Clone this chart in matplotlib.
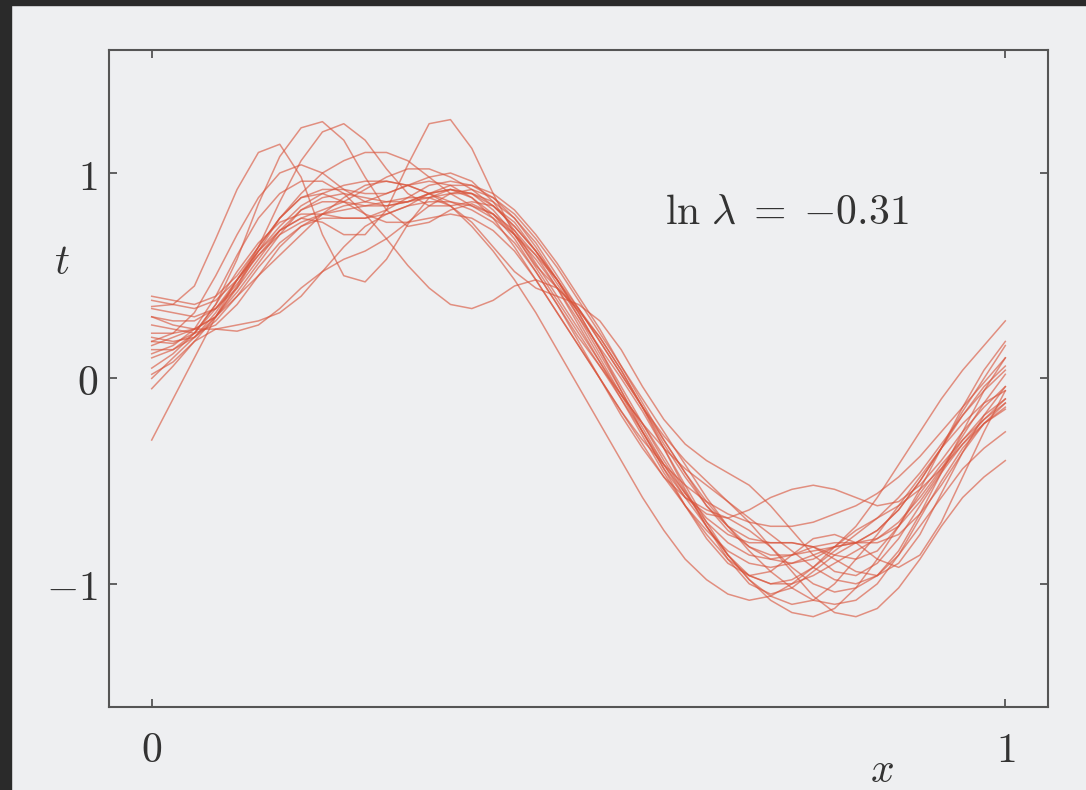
import numpy as np
import matplotlib
matplotlib.use("Agg")
import matplotlib.pyplot as plt
from matplotlib.patches import Rectangle

plt.rcParams['mathtext.fontset'] = 'cm'

# x grid the curves were read on (step 0.025)
x_grid = np.linspace(0, 1, 41)

# fitted curves, values of t at each x_grid point
fit_01 = [0.35, 0.36, 0.45, 0.68, 0.92, 1.10, 1.14, 0.98, 0.70, 0.50, 0.47, 0.58, 0.75, 0.88, 0.92, 0.88, 0.78, 0.64, 0.48, 0.32,
          0.16, 0.00, -0.16, -0.32, -0.48, -0.62, -0.74, -0.84, -0.90, -0.92, -0.90, -0.86, -0.82, -0.80, -0.78, -0.72, -0.60, -0.45, -0.30, -0.18, -0.10]
fit_02 = [0.18, 0.17, 0.22, 0.36, 0.58, 0.85, 1.08, 1.22, 1.25, 1.16, 0.98, 0.82, 0.74, 0.76, 0.82, 0.85, 0.80, 0.68, 0.52, 0.36,
          0.20, 0.06, -0.08, -0.22, -0.38, -0.55, -0.72, -0.88, -1.00, -1.05, -1.02, -0.94, -0.86, -0.80, -0.74, -0.64, -0.50, -0.34, -0.18, -0.04, 0.06]
fit_03 = [0.02, 0.08, 0.18, 0.30, 0.45, 0.64, 0.86, 1.06, 1.20, 1.24, 1.16, 1.02, 0.90, 0.84, 0.84, 0.86, 0.84, 0.76, 0.62, 0.46,
          0.30, 0.15, 0.00, -0.16, -0.34, -0.52, -0.70, -0.86, -0.98, -1.06, -1.10, -1.08, -1.00, -0.88, -0.76, -0.62, -0.48, -0.34, -0.22, -0.12, -0.06]
fit_04 = [0.30, 0.28, 0.28, 0.34, 0.46, 0.60, 0.72, 0.78, 0.76, 0.70, 0.70, 0.82, 1.04, 1.24, 1.26, 1.12, 0.90, 0.70, 0.55, 0.44,
          0.33, 0.20, 0.04, -0.14, -0.32, -0.48, -0.62, -0.72, -0.78, -0.80, -0.80, -0.82, -0.86, -0.88, -0.84, -0.72, -0.54, -0.34, -0.14, 0.04, 0.18]
fit_05 = [0.38, 0.36, 0.34, 0.38, 0.48, 0.60, 0.70, 0.76, 0.80, 0.82, 0.84, 0.86, 0.88, 0.88, 0.84, 0.76, 0.64, 0.52, 0.44, 0.40,
          0.36, 0.28, 0.14, -0.04, -0.20, -0.32, -0.40, -0.46, -0.52, -0.62, -0.74, -0.86, -0.94, -0.96, -0.90, -0.78, -0.62, -0.46, -0.32, -0.22, -0.15]
fit_06 = [0.12, 0.16, 0.24, 0.40, 0.60, 0.78, 0.90, 0.96, 0.96, 0.90, 0.80, 0.68, 0.55, 0.44, 0.36, 0.34, 0.38, 0.45, 0.48, 0.44,
          0.34, 0.20, 0.04, -0.14, -0.34, -0.54, -0.72, -0.86, -0.96, -1.00, -0.98, -0.92, -0.84, -0.76, -0.68, -0.58, -0.46, -0.32, -0.18, -0.06, 0.04]
fit_07 = [-0.30, -0.10, 0.10, 0.30, 0.48, 0.62, 0.72, 0.78, 0.82, 0.86, 0.92, 0.98, 1.02, 1.02, 0.98, 0.92, 0.84, 0.74, 0.62, 0.48,
          0.32, 0.14, -0.04, -0.22, -0.40, -0.56, -0.70, -0.80, -0.86, -0.88, -0.86, -0.82, -0.80, -0.80, -0.80, -0.76, -0.66, -0.52, -0.36, -0.22, -0.12]
fit_08 = [-0.05, 0.06, 0.18, 0.24, 0.26, 0.28, 0.32, 0.40, 0.52, 0.64, 0.74, 0.80, 0.84, 0.86, 0.86, 0.84, 0.80, 0.72, 0.60, 0.44,
          0.26, 0.08, -0.10, -0.28, -0.46, -0.62, -0.76, -0.88, -0.96, -1.00, -1.00, -0.96, -0.90, -0.84, -0.78, -0.70, -0.58, -0.44, -0.28, -0.12, 0.02]
fit_09 = [0.16, 0.20, 0.24, 0.24, 0.23, 0.26, 0.34, 0.44, 0.52, 0.58, 0.62, 0.68, 0.76, 0.84, 0.90, 0.92, 0.88, 0.80, 0.68, 0.54,
          0.38, 0.22, 0.06, -0.10, -0.26, -0.42, -0.58, -0.72, -0.84, -0.94, -1.02, -1.08, -1.10, -1.08, -1.00, -0.86, -0.68, -0.50, -0.34, -0.22, -0.14]
fit_10 = [0.40, 0.38, 0.36, 0.40, 0.50, 0.64, 0.78, 0.88, 0.92, 0.92, 0.90, 0.90, 0.94, 0.98, 1.00, 0.96, 0.86, 0.72, 0.56, 0.40,
          0.24, 0.08, -0.08, -0.22, -0.34, -0.44, -0.52, -0.60, -0.68, -0.76, -0.84, -0.92, -0.98, -1.00, -0.96, -0.84, -0.66, -0.46, -0.26, -0.06, 0.10]
fit_11 = [0.20, 0.18, 0.20, 0.28, 0.40, 0.54, 0.66, 0.74, 0.78, 0.78, 0.78, 0.80, 0.84, 0.90, 0.94, 0.94, 0.90, 0.82, 0.70, 0.56,
          0.40, 0.24, 0.06, -0.12, -0.30, -0.46, -0.60, -0.72, -0.82, -0.88, -0.90, -0.88, -0.82, -0.72, -0.58, -0.42, -0.26, -0.10, 0.04, 0.16, 0.28]
fit_12 = [0.10, 0.14, 0.22, 0.34, 0.48, 0.62, 0.74, 0.84, 0.90, 0.94, 0.96, 0.96, 0.94, 0.90, 0.84, 0.74, 0.62, 0.48, 0.32, 0.14,
          -0.04, -0.22, -0.40, -0.58, -0.74, -0.88, -0.98, -1.05, -1.08, -1.06, -1.00, -0.92, -0.82, -0.74, -0.68, -0.62, -0.54, -0.44, -0.32, -0.20, -0.10]
fit_13 = [0.22, 0.22, 0.24, 0.30, 0.42, 0.56, 0.70, 0.82, 0.88, 0.90, 0.88, 0.86, 0.86, 0.88, 0.90, 0.90, 0.86, 0.78, 0.66, 0.50,
          0.34, 0.18, 0.02, -0.14, -0.28, -0.40, -0.50, -0.60, -0.70, -0.82, -0.94, -1.06, -1.14, -1.16, -1.12, -1.02, -0.88, -0.72, -0.58, -0.48, -0.40]
fit_14 = [0.05, 0.12, 0.22, 0.36, 0.52, 0.66, 0.76, 0.80, 0.80, 0.78, 0.78, 0.82, 0.88, 0.94, 0.96, 0.94, 0.88, 0.78, 0.64, 0.48,
          0.30, 0.12, -0.06, -0.24, -0.42, -0.58, -0.72, -0.86, -0.98, -1.08, -1.14, -1.16, -1.12, -1.02, -0.88, -0.72, -0.56, -0.42, -0.30, -0.20, -0.12]
fit_15 = [0.14, 0.14, 0.20, 0.32, 0.48, 0.64, 0.78, 0.90, 1.00, 1.06, 1.10, 1.10, 1.06, 0.98, 0.90, 0.84, 0.78, 0.70, 0.60, 0.48,
          0.32, 0.14, -0.06, -0.26, -0.44, -0.58, -0.66, -0.68, -0.64, -0.58, -0.54, -0.52, -0.54, -0.58, -0.62, -0.60, -0.52, -0.40, -0.26, -0.14, -0.04]
fit_16 = [0.26, 0.24, 0.22, 0.26, 0.36, 0.50, 0.64, 0.74, 0.80, 0.84, 0.86, 0.90, 0.94, 0.96, 0.94, 0.88, 0.80, 0.70, 0.58, 0.44,
          0.28, 0.10, -0.08, -0.26, -0.44, -0.62, -0.78, -0.90, -0.96, -0.94, -0.86, -0.78, -0.76, -0.80, -0.88, -0.92, -0.86, -0.70, -0.48, -0.26, -0.06]
fit_17 = [0.34, 0.32, 0.30, 0.34, 0.44, 0.58, 0.72, 0.82, 0.86, 0.86, 0.84, 0.84, 0.86, 0.90, 0.92, 0.90, 0.84, 0.74, 0.62, 0.48,
          0.34, 0.18, 0.02, -0.14, -0.30, -0.46, -0.62, -0.74, -0.82, -0.86, -0.86, -0.84, -0.82, -0.80, -0.74, -0.64, -0.50, -0.34, -0.16, 0.00, 0.16]
fit_18 = [0.18, 0.22, 0.32, 0.50, 0.70, 0.88, 1.00, 1.04, 1.00, 0.92, 0.86, 0.84, 0.86, 0.90, 0.92, 0.90, 0.82, 0.70, 0.54, 0.38,
          0.22, 0.06, -0.10, -0.26, -0.42, -0.56, -0.68, -0.76, -0.80, -0.80, -0.80, -0.82, -0.88, -0.94, -0.96, -0.90, -0.76, -0.56, -0.36, -0.18, -0.04]
fit_19 = [0.30, 0.26, 0.24, 0.30, 0.44, 0.62, 0.78, 0.88, 0.90, 0.86, 0.80, 0.76, 0.76, 0.78, 0.80, 0.78, 0.72, 0.62, 0.48, 0.32,
          0.16, 0.00, -0.16, -0.30, -0.42, -0.52, -0.60, -0.66, -0.70, -0.72, -0.72, -0.70, -0.66, -0.62, -0.56, -0.48, -0.38, -0.26, -0.14, -0.02, 0.10]
fit_20 = [0.00, 0.10, 0.20, 0.30, 0.40, 0.50, 0.60, 0.70, 0.80, 0.88, 0.94, 0.96, 0.94, 0.90, 0.86, 0.82, 0.76, 0.66, 0.52, 0.36,
          0.18, 0.00, -0.18, -0.34, -0.48, -0.58, -0.64, -0.68, -0.74, -0.82, -0.92, -1.00, -1.04, -1.02, -0.96, -0.86, -0.72, -0.58, -0.44, -0.34, -0.26]

fits = [fit_01, fit_02, fit_03, fit_04, fit_05, fit_06, fit_07, fit_08, fit_09, fit_10,
        fit_11, fit_12, fit_13, fit_14, fit_15, fit_16, fit_17, fit_18, fit_19, fit_20]

x_ticks = [0, 1]
y_ticks = [-1, 0, 1]

paper = '#eeeff1'
fig = plt.figure(figsize=(10.86, 7.9), dpi=100, facecolor=paper)
ax = fig.add_axes([0.1004, 0.105, 0.8646, 0.832])
ax.set_facecolor(paper)

for f in fits:
    ax.plot(x_grid, f, color='#d9533a', lw=1.1, alpha=0.62, solid_joinstyle='round')

ax.set_xlim(-0.05, 1.05)
ax.set_ylim(-1.6, 1.6)
ax.set_xticks(x_ticks)
ax.set_xticklabels(['$%d$' % v for v in x_ticks])
ax.set_yticks(y_ticks)
ax.set_yticklabels(['$%d$' % v for v in y_ticks])
ax.tick_params(direction='in', top=True, right=True, length=6, width=1.3,
               color='#555555', labelsize=30, labelcolor='#333333')
ax.tick_params(axis='x', pad=16)
ax.tick_params(axis='y', pad=8)
for s in ax.spines.values():
    s.set_color('#555555')
    s.set_linewidth(1.5)

ax.text(0.601, 0.81, r'$\ln\,\lambda\;=\;{-}0.31$', fontsize=30, color='#333333', va='center')
fig.text(62 / 1086, 1 - 262 / 790, '$t$', fontsize=30, color='#333333', ha='center', va='center')
fig.text(882 / 1086, 1 - 770 / 790, '$x$', fontsize=30, color='#333333', ha='center', va='center')

# dark edge of the photo
fig.patches.append(Rectangle((0, 0), 11 / 1086, 1, transform=fig.transFigure, color='#2a2a2a', zorder=0))
fig.patches.append(Rectangle((0, 1 - 5 / 790), 1, 5 / 790, transform=fig.transFigure, color='#2a2a2a', zorder=0))

fig.savefig('out.png', dpi=100, facecolor=paper)
